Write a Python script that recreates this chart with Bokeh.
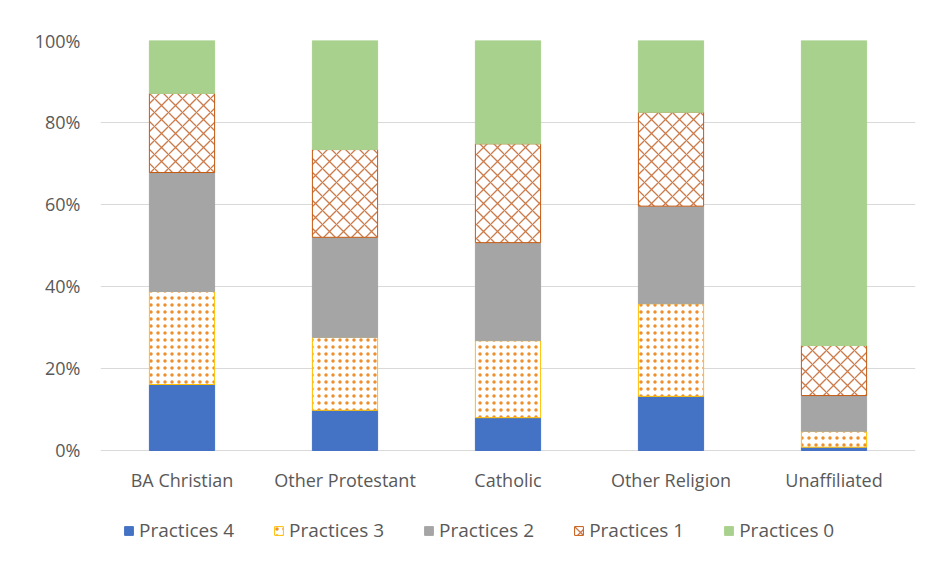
from bokeh.plotting import figure
from bokeh.models import Range1d, NumeralTickFormatter, Legend, LegendItem, FixedTicker, ColumnDataSource
from bokeh.core.properties import value
from bokeh.transform import stack
from bokeh.embed import file_html
from bokeh.resources import INLINE

categories = ["BA Christian", "Other Protestant", "Catholic", "Other Religion", "Unaffiliated"]
series_names = ["Practices 4", "Practices 3", "Practices 2", "Practices 1", "Practices 0"]
practices_4 = [0.161, 0.098, 0.080, 0.132, 0.008]
practices_3 = [0.227, 0.178, 0.188, 0.226, 0.039]
practices_2 = [0.290, 0.244, 0.239, 0.238, 0.087]
practices_1 = [0.193, 0.214, 0.241, 0.229, 0.122]
practices_0 = [0.129, 0.266, 0.252, 0.175, 0.744]
y_ticks = [0, 0.2, 0.4, 0.6, 0.8, 1.0]

keys = ["p4", "p3", "p2", "p1", "p0"]
source = ColumnDataSource(dict(cat=categories, p4=practices_4, p3=practices_3,
                               p2=practices_2, p1=practices_1, p0=practices_0,
                               base=[0] * len(categories)))

FONT = "Open Sans"
TXT = "#595959"

# frame spans from 100% down to the legend row (room below 0% for labels + legend)
p = figure(x_range=categories, y_range=Range1d(-0.2488, 1), width=923, height=557,
           output_backend="svg", toolbar_location=None,
           min_border_left=100, min_border_right=8, min_border_top=40, min_border_bottom=5)
p.x_range.range_padding = 0
p.outline_line_color = None
p.background_fill_color = "white"
p.border_fill_color = "white"

styles = [
    dict(fill_color="#4472C4", line_color="#4472C4"),
    dict(fill_color="white", line_color="#FFC000", hatch_pattern="dot", hatch_color="#EE8E2C",
         hatch_scale=7, hatch_weight=3.2),
    dict(fill_color="#A5A5A5", line_color="#A5A5A5"),
    dict(fill_color="white", line_color="#C55A11", hatch_pattern="diagonal_cross", hatch_color="#CB7A4A",
         hatch_scale=14, hatch_weight=1.3),
    dict(fill_color="#A9D18E", line_color="#A9D18E"),
]

renderers = []
for i, k in enumerate(keys):
    r = p.vbar(x="cat", width=0.4, bottom=stack(*keys[:i]) if i else 0, top=stack(*keys[:i + 1]),
               source=source, line_width=1, **styles[i])
    renderers.append(r)

# category labels just below the 0% line
p.text(x="cat", y="base", text="cat", source=source, text_align="center", text_baseline="top",
       y_offset=18, text_font=value(FONT), text_font_size="18px", text_color=TXT)

p.xaxis.visible = False
p.yaxis.ticker = FixedTicker(ticks=y_ticks)
p.yaxis.formatter = NumeralTickFormatter(format="0%")
ax = p.yaxis[0]
ax.axis_line_color = None
ax.major_tick_line_color = None
ax.minor_tick_line_color = None
ax.major_tick_out = 0
ax.minor_tick_out = 0
ax.major_tick_in = 0
ax.major_label_text_font = FONT
ax.major_label_text_font_size = "18px"
ax.major_label_text_color = TXT
ax.major_label_standoff = 20

p.xgrid.grid_line_color = None
p.ygrid.grid_line_color = "#D9D9D9"
p.ygrid.ticker = FixedTicker(ticks=y_ticks)

legend = Legend(items=[LegendItem(label=n, renderers=[r]) for n, r in zip(series_names, renderers)],
                orientation="horizontal", location=(23, 9),
                glyph_width=11, glyph_height=11, label_standoff=5, spacing=39,
                label_text_font=FONT, label_text_font_size="19px", label_text_color=TXT,
                border_line_color=None, background_fill_alpha=0, padding=0, margin=0)
p.add_layout(legend)

open("out.html", "w").write(file_html(p, INLINE))
